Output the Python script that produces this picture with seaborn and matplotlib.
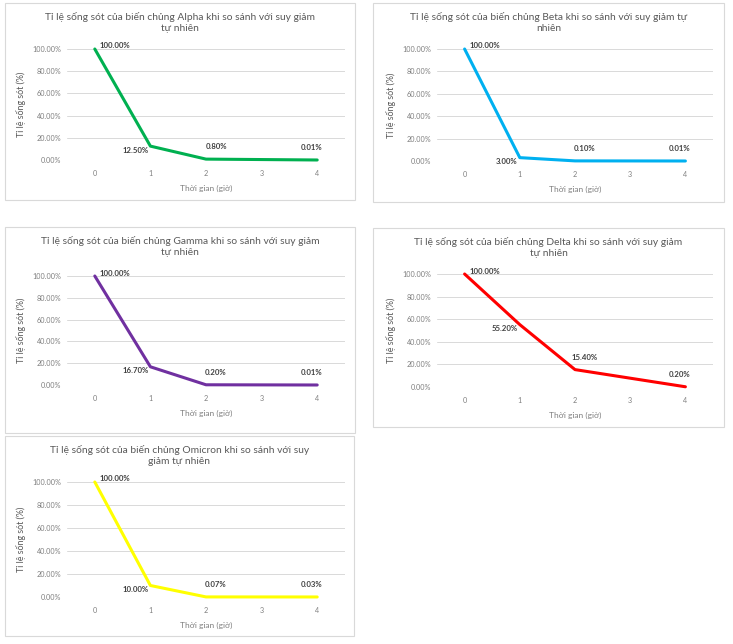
import matplotlib
matplotlib.use("Agg")
import matplotlib.pyplot as plt
from matplotlib.patches import Rectangle
import seaborn as sns

# Dữ liệu (giờ, % sống sót)
hours = [0, 1, 2, 4]
alpha = [100.0, 12.5, 0.8, 0.01]
beta = [100.0, 3.0, 0.1, 0.01]
gamma = [100.0, 16.7, 0.2, 0.01]
delta = [100.0, 55.2, 15.4, 0.2]
omicron = [100.0, 10.0, 0.07, 0.03]

x_ticks = [0, 1, 2, 3, 4]
y_ticks = [0, 20, 40, 60, 80, 100]

titles = [
    "Tỉ lệ sống sót của biến chủng Alpha khi so sánh với suy giảm\ntự nhiên",
    "Tỉ lệ sống sót của biến chủng Beta khi so sánh với suy giảm tự\nnhiên",
    "Tỉ lệ sống sót của biến chủng Gamma khi so sánh với suy giảm\ntự nhiên",
    "Tỉ lệ sống sót của biến chủng Delta khi so sánh với suy giảm\ntự nhiên",
    "Tỉ lệ sống sót của biến chủng Omicron khi so sánh với suy\ngiảm tự nhiên",
]
series = [alpha, beta, gamma, delta, omicron]
colors = ["#00b050", "#00b0f0", "#7030a0", "#ff0000", "#ffff00"]

sns.set_style("white")
plt.rcParams['font.family'] = ['Lato', 'DejaVu Sans']

W, H = 733, 644
fig = plt.figure(figsize=(W / 100, H / 100), dpi=100)

# khung (x0, y0, x1, y1) và vùng vẽ (x0, y_top, x1, y_bottom) theo pixel
boxes = [(5, 3, 355, 200), (373, 3, 724, 202), (5, 227, 355, 433),
         (373, 228, 724, 427), (5, 436, 354, 636)]
areas = [(67, 49, 345, 160), (437, 49, 713, 161), (67, 276, 345, 385),
         (437, 274, 713, 387), (67, 482, 345, 597)]

# vị trí nhãn dữ liệu (pixel offset so với điểm)
label_offsets = [(5, 3, "left"), (-2, -4, "right"), (10, 9, "center"), (-6, 9, "center")]

for i in range(5):
    bx0, by0, bx1, by1 = boxes[i]
    fig.patches.append(Rectangle((bx0 / W, 1 - by1 / H), (bx1 - bx0) / W, (by1 - by0) / H,
                                 transform=fig.transFigure, fill=False,
                                 edgecolor="#d9d9d9", linewidth=0.8))
    ax0, at, ax1, ab = areas[i]
    ax = fig.add_axes([ax0 / W, 1 - ab / H, (ax1 - ax0) / W, (ab - at) / H])
    sns.lineplot(x=hours, y=series[i], ax=ax, color=colors[i], linewidth=2.2)
    for l in ax.lines:
        l.set_clip_on(False)
    ax.set_xlim(-0.5, 4.5)
    ax.set_ylim(0, 100)
    ax.set_xticks(x_ticks)
    ax.set_yticks(y_ticks)
    ax.set_yticklabels([f"{v:.2f}%" for v in y_ticks])
    ax.tick_params(axis="both", length=0, labelsize=5.2, colors="#7f7f7f", pad=4)
    ax.tick_params(axis="x", pad=7)
    ax.grid(axis="y", color="#d9d9d9", linewidth=0.7)
    ax.set_axisbelow(True)
    for s in ax.spines.values():
        s.set_visible(False)
    ax.set_xlabel("Thời gian (giờ)", fontsize=6.0, color="#7f7f7f", labelpad=6)
    ax.set_ylabel("Tỉ lệ sống sót (%)", fontsize=6.4, color="#595959", labelpad=5)

    for j, (xv, yv) in enumerate(zip(hours, series[i])):
        dx, dy, ha = label_offsets[j]
        ax.annotate(f"{yv:.2f}%", (xv, yv), xytext=(dx, dy), textcoords="offset pixels",
                    ha=ha, va="center" if j < 2 else "bottom", fontsize=5.6,
                    fontweight="bold", color="#404040")

    tx = (bx0 + bx1) / 2
    ty = by0 + 9
    fig.text(tx / W, 1 - ty / H, titles[i], ha="center", va="top", fontsize=7.4,
             color="#595959", linespacing=1.25)

fig.savefig("out.png", dpi=100)
